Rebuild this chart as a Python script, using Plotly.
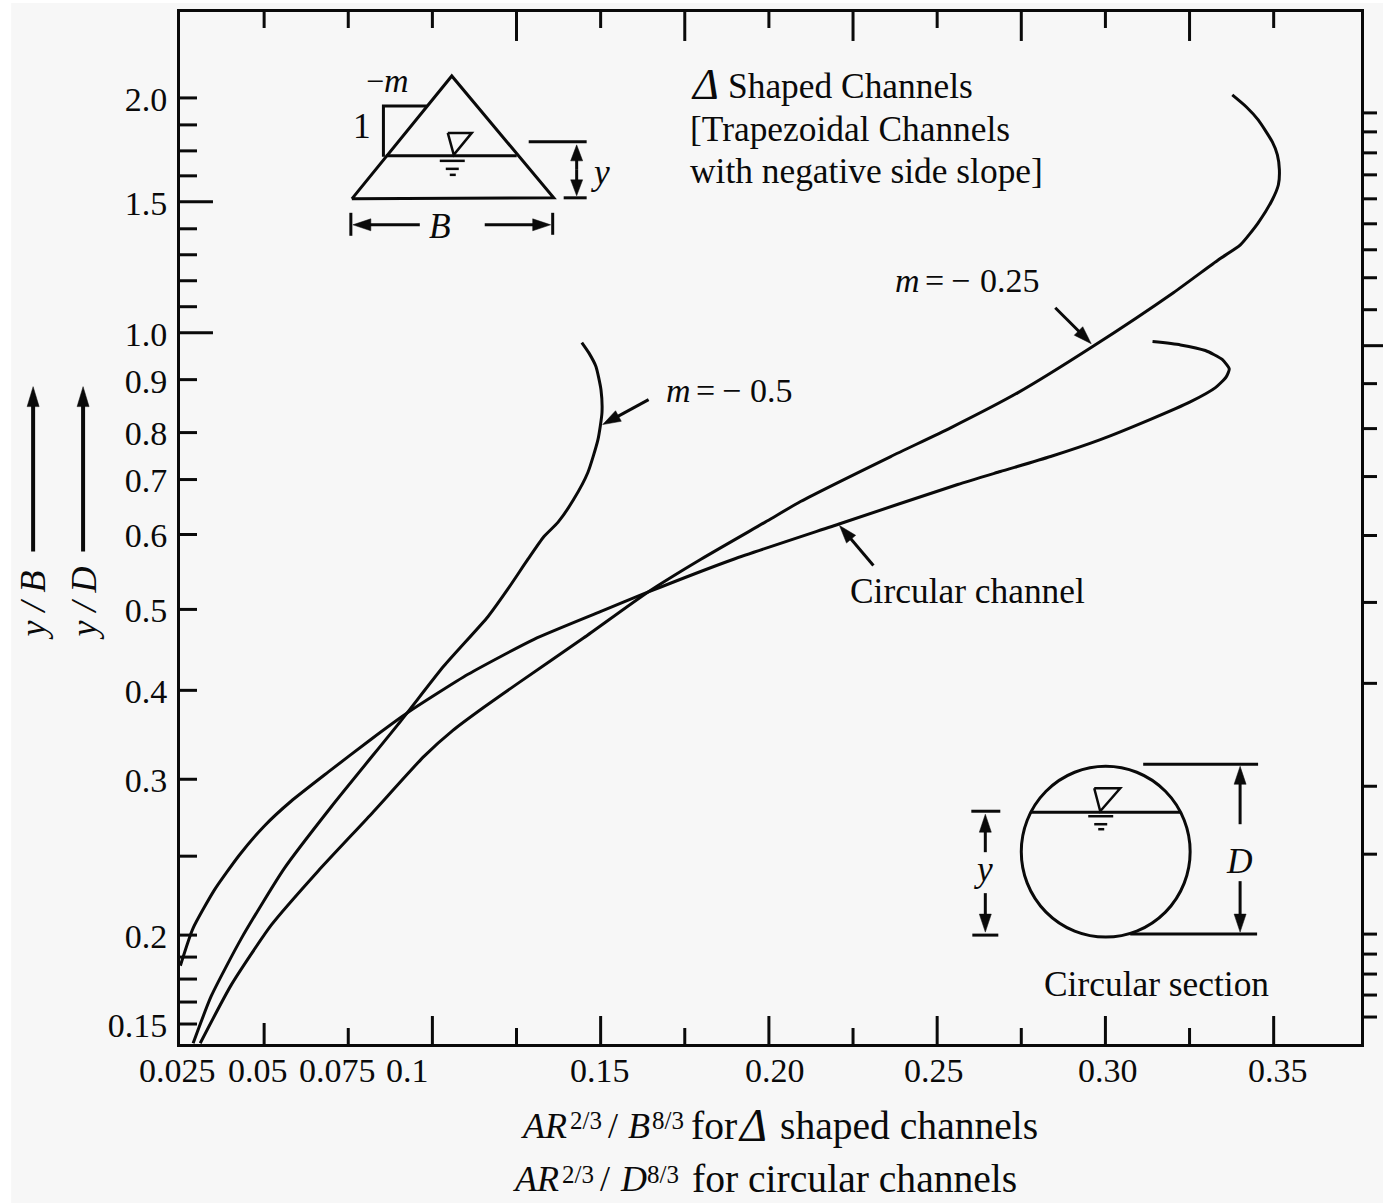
import numpy as np
import plotly.graph_objects as go

# Curves: x = AR^(2/3)/B^(8/3) or /D^(8/3), y = y/B or y/D
circular_x = [0.0251,0.0288,0.0352,0.0426,0.05,0.058,0.069,0.0818,0.0928,0.1106,0.1302,0.1501,0.164,0.1895,0.2213,0.2561,0.2688,0.2837,0.2985,0.3134,0.3252,0.3327,0.3359,0.3368,0.3347,0.3297,0.3223,0.314]
circular_y = [0.1826,0.204,0.2285,0.2506,0.2695,0.2857,0.308,0.345,0.3753,0.4198,0.463,0.4975,0.523,0.567,0.62,0.691,0.717,0.749,0.785,0.825,0.858,0.885,0.906,0.923,0.943,0.962,0.974,0.981]
m05_x = [0.0289,0.0343,0.0432,0.0559,0.0699,0.0907,0.1034,0.1165,0.1224,0.1284,0.1331,0.1373,0.142,0.1462,0.1492,0.1504,0.1501,0.1486,0.1465,0.1444]
m05_y = [0.139,0.1658,0.198,0.242,0.282,0.366,0.43,0.491,0.527,0.567,0.597,0.622,0.664,0.715,0.785,0.838,0.881,0.928,0.957,0.979]
m025_x = [0.031,0.0402,0.0521,0.066,0.0818,0.0975,0.1061,0.1153,0.1254,0.145,0.164,0.1798,0.1996,0.2094,0.2362,0.254,0.2739,0.2961,0.3202,0.3336,0.3401,0.3454,0.3496,0.3514,0.3517,0.3511,0.3496,0.3454,0.3419,0.3377]
m025_y = [0.139,0.1717,0.2063,0.2405,0.2773,0.3258,0.355,0.381,0.4086,0.465,0.523,0.567,0.625,0.66,0.749,0.809,0.875,0.97,1.154,1.281,1.338,1.422,1.51,1.582,1.655,1.73,1.793,1.898,1.958,2.014]

# Tick values
x_labels = ["0.025","0.05","0.075","0.1","0.15","0.20","0.25","0.30","0.35"]
x_label_vals = [0.025,0.05,0.075,0.1,0.15,0.20,0.25,0.30,0.35]
x_label_shift = [-3,-6,-11,-25,-1,6,-3,3,4]
bottom_long = [0.1,0.15,0.20,0.25,0.30,0.35]
bottom_mid = [0.05]
bottom_short = [0.075,0.125,0.175,0.225,0.275,0.325]
top_long = [0.125,0.175,0.225,0.275,0.325]
top_short = [0.05,0.075,0.1,0.15,0.20,0.25,0.30,0.35]
y_labels = ["2.0","1.5","1.0","0.9","0.8","0.7","0.6","0.5","0.4","0.3","0.2","0.15"]
y_label_vals = [2.0,1.5,1.0,0.9,0.8,0.7,0.6,0.5,0.4,0.3,0.2,0.15]
y_minor_vals = [1.875,1.75,1.625,1.4,1.3,1.2,1.1,0.25,0.1875,0.175,0.1625]

# The printed y scale is only roughly logarithmic, so it is defined by its own ticks
scale_vals = [2.4,2.0,1.875,1.75,1.625,1.5,1.4,1.3,1.2,1.1,1.0,0.9,0.8,0.7,0.6,0.5,0.4,0.3,0.25,0.2,0.1875,0.175,0.1625,0.15,0.1386]
scale_pos  = [1033,947,920,894,869,843,816,790,764,738,712,665,612,565,510,435,354,265,188,109,87,65,42,20,0]
def Y(v):
    a = np.array(scale_vals)[::-1]; b = np.array(scale_pos)[::-1]
    return np.interp(v, a, b)

FONT = "Liberation Serif"
INK = "#0a0a0a"
L, T, R, B = 179, 12, 1361, 1045
def PX(x): return (x - L) / (R - L)
def PY(y): return (B - y) / (B - T)

shapes, anns = [], []
def seg(x0, y0, x1, y1, w=3):
    shapes.append(dict(type="line", xref="paper", yref="paper", x0=PX(x0), y0=PY(y0), x1=PX(x1), y1=PY(y1), line=dict(color=INK, width=w)))
def poly(pts, w=3, fill=None):
    d = "M " + " L ".join(f"{PX(x):.5f},{PY(y):.5f}" for x, y in pts) + (" Z" if fill else "")
    shapes.append(dict(type="path", xref="paper", yref="paper", path=d, line=dict(color=INK, width=w), fillcolor=fill or "rgba(0,0,0,0)"))
def arrow(x0, y0, x1, y1, w=3, hl=18, hw=6):
    dx, dy = x1 - x0, y1 - y0
    n = (dx*dx + dy*dy) ** 0.5
    ux, uy = dx/n, dy/n
    seg(x0, y0, x1 - ux*hl*0.7, y1 - uy*hl*0.7, w)
    bx, by = x1 - ux*hl, y1 - uy*hl
    poly([(x1, y1), (bx - uy*hw, by + ux*hw), (bx + uy*hw, by - ux*hw)], w=0.5, fill=INK)
def txt(x, y, s, size=35.4, anchor="left", angle=0):
    dx = 2 if anchor == "left" else 1
    anns.append(dict(xref="paper", yref="paper", x=PX(x - dx), y=PY(y), text=s, showarrow=False, xanchor=anchor, yanchor="middle",
                     textangle=angle, font=dict(family=FONT, size=size, color=INK), borderpad=0))

# page tint
shapes.append(dict(type="rect", xref="paper", yref="paper", x0=PX(10), y0=PY(3), x1=PX(1383), y1=PY(1206), fillcolor="#f7f7f7", line=dict(width=0), layer="below"))

# ticks
def xtick(v, y0, y1, w=3):
    shapes.append(dict(type="line", xref="x", yref="paper", x0=v, x1=v, y0=PY(y0), y1=PY(y1), line=dict(color=INK, width=w)))
def ytick(v, x0, x1, w=3):
    shapes.append(dict(type="line", xref="paper", yref="y", y0=float(Y(v)), y1=float(Y(v)), x0=PX(x0), x1=PX(x1), line=dict(color=INK, width=w)))
for v in bottom_long: xtick(v, B, 1017)
for v in bottom_mid: xtick(v, B, 1024)
for v in bottom_short: xtick(v, B, 1029)
for v in top_long: xtick(v, T, 41)
for v in top_short: xtick(v, T, 28)
for v in y_label_vals + y_minor_vals:
    ytick(v, L, 212 if v in (1.5, 1.0) else 196)
right_ticks = [113,132,153,175,199,224,250,278,310,384,429,477,536,603,684,787,855,935,955,975,996,1018]
for p in right_ticks: seg(R, p, 1377, p)
seg(R, 346, 1383, 346)

# x tick labels
for s, v, d in zip(x_labels, x_label_vals, x_label_shift):
    anns.append(dict(xref="x", yref="paper", x=v, y=PY(1072), xshift=d, text=s, showarrow=False, xanchor="center", yanchor="middle",
                     font=dict(family=FONT, size=34, color=INK), borderpad=0))

# texts
txt(691, 85, "<i>Δ</i>", size=44)
txt(728, 86, "Shaped Channels")
txt(690, 129, "[Trapezoidal Channels")
txt(690, 171, "with negative side slope]")
txt(896, 281, "<i>m</i>", size=34); txt(926, 281, "=", size=34); txt(952, 281, "−", size=34); txt(981, 281, "0.25", size=34)
txt(666, 391, "<i>m</i>", size=34); txt(696, 391, "=", size=34); txt(722, 391, "−", size=34); txt(750, 391, "0.5", size=34)
txt(851, 592, "Circular channel")
txt(1045, 985, "Circular section")
txt(362, 126, "1", anchor="center")
txt(366, 81, "−", size=32); txt(384, 81, "<i>m</i>", size=34)
txt(440, 226, "<i>B</i>", anchor="center")
txt(601, 172, "<i>y</i>", anchor="center")
txt(984, 870, "<i>y</i>", anchor="center")
txt(1240, 862, "<i>D</i>", anchor="center")
txt(33, 606, "<i>y / B</i>", anchor="center", angle=-90, size=36)
txt(84, 604, "<i>y / D</i>", anchor="center", angle=-90, size=36)
# x axis captions
CAP = 39.6
txt(521, 1127, "<i>AR</i>", size=36); txt(570, 1122, "2/3", size=25); txt(608, 1127, "/", size=36); txt(628, 1127, "<i>B</i>", size=36)
txt(652, 1122, "8/3", size=25); txt(691, 1127, "for", size=CAP); txt(738, 1127, "<i>Δ</i>", size=46); txt(781, 1127, "shaped channels", size=CAP)
txt(513, 1180, "<i>AR</i>", size=36); txt(562, 1176, "2/3", size=25); txt(600, 1180, "/", size=36); txt(620, 1180, "<i>D</i>", size=36)
txt(647, 1176, "8/3", size=25); txt(692, 1180, "for circular channels", size=CAP)

# direction and pointer arrows
arrow(32, 552, 32, 387, w=4, hl=20, hw=6)
arrow(82, 552, 82, 387, w=4, hl=20, hw=6)
arrow(1055, 308, 1091, 344)
arrow(648, 400, 602, 425)
arrow(873, 566, 839, 526)

# trapezoid sketch
poly([(351, 199), (451, 76), (553, 198), (351, 199)])
seg(385, 156, 516, 156)
poly([(382.6, 157), (382.6, 106), (426, 106)])
poly([(447, 133), (471, 133), (453, 155), (447, 133)], w=2.5)
seg(439, 161, 464, 161, 2.5); seg(445, 169, 458, 169, 2.5); seg(449, 175, 455, 175, 2.5)
seg(528, 142, 586, 142); seg(563, 198, 586, 198)
arrow(576, 170, 576, 145, hl=16, hw=6); arrow(576, 170, 576, 196, hl=16, hw=6)
seg(350, 213, 350, 236); seg(552, 213, 552, 235)
arrow(419, 225, 352, 225, hl=18, hw=6); arrow(484, 225, 550, 225, hl=18, hw=6)

# circular sketch
shapes.append(dict(type="circle", xref="paper", yref="paper", x0=PX(1021), x1=PX(1190), y0=PY(938), y1=PY(767), line=dict(color=INK, width=3)))
seg(1030, 813, 1180, 813)
poly([(1094, 789), (1120, 789), (1100, 812), (1094, 789)], w=2.5)
seg(1088, 817, 1113, 817, 2.5); seg(1094, 825, 1107, 825, 2.5); seg(1098, 830, 1104, 830, 2.5)
seg(1143, 765, 1258, 765); seg(1130, 935, 1257, 935)
arrow(1240, 825, 1240, 767, hl=18); arrow(1240, 882, 1240, 933, hl=18)
seg(971, 812, 1000, 812); seg(972, 936, 998, 936)
arrow(985, 853, 985, 815, hl=18); arrow(985, 894, 985, 933, hl=18)

fig = go.Figure()
for xs, ys, name in [(circular_x, circular_y, "Circular channel"), (m05_x, m05_y, "m = -0.5"), (m025_x, m025_y, "m = -0.25")]:
    fig.add_trace(go.Scatter(x=xs, y=Y(ys), mode="lines", name=name, line=dict(color=INK, width=3, shape="spline", smoothing=0.55), hoverinfo="skip"))

fig.update_layout(
    width=1383, height=1203, margin=dict(l=L+1, r=1383-R, t=T-3, b=1203-B+1, pad=0),
    paper_bgcolor="white", plot_bgcolor="rgba(0,0,0,0)", showlegend=False,
    shapes=shapes, annotations=anns,
    xaxis=dict(range=[0.025, 0.025 + (R-L)/3368], showgrid=False, zeroline=False, showticklabels=False, ticks="",
               showline=True, mirror=True, linecolor=INK, linewidth=3),
    yaxis=dict(range=[0, 1033], showgrid=False, zeroline=False, ticks="", tickmode="array",
               tickvals=[float(Y(v)) for v in y_label_vals], ticktext=y_labels, ticklabelstandoff=3, ticklabelshift=1,
               tickfont=dict(family=FONT, size=34, color=INK),
               showline=True, mirror=True, linecolor=INK, linewidth=3),
)
fig.write_html("out.html", config={"displayModeBar": False}, post_script="document.body.style.margin='0';")
